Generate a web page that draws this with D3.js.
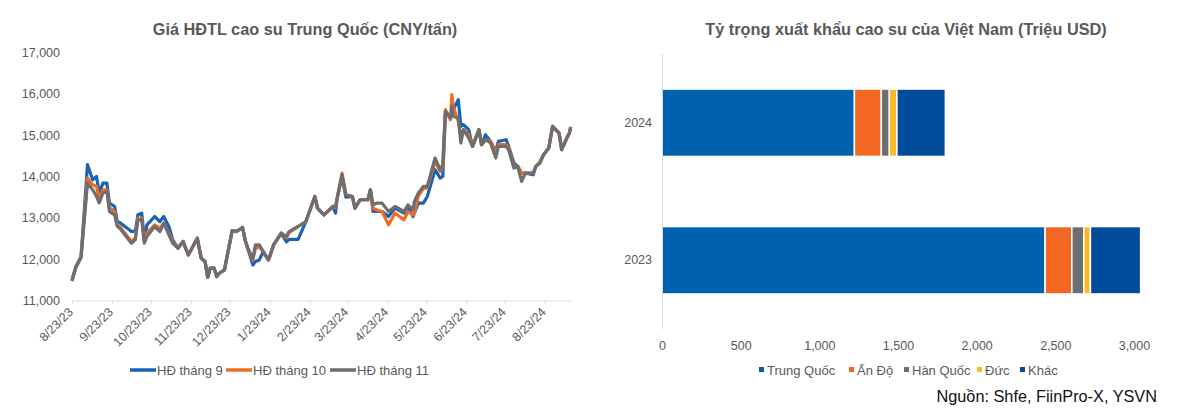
<!DOCTYPE html>
<html><head><meta charset="utf-8">
<script src="https://cdn.jsdelivr.net/npm/d3@7"></script>
<style>
html,body{margin:0;padding:0;background:#fff;}
svg{display:block;font-family:"Liberation Sans",Arial,sans-serif;}
</style></head>
<body>
<svg id="c" width="1200" height="409"></svg>
<script>
// ---------- Left chart data ----------
const dates = [
"2023-08-23","2023-08-26","2023-08-30","2023-09-04","2023-09-08","2023-09-11","2023-09-13","2023-09-16","2023-09-19","2023-09-21",
"2023-09-25","2023-09-27","2023-09-29","2023-10-08","2023-10-11","2023-10-13","2023-10-16","2023-10-18","2023-10-20","2023-10-26",
"2023-10-30","2023-11-02","2023-11-06","2023-11-09","2023-11-13","2023-11-17","2023-11-21","2023-11-28","2023-12-01","2023-12-04",
"2023-12-06","2023-12-08","2023-12-11","2023-12-13","2023-12-15","2023-12-19","2023-12-21","2023-12-25","2023-12-28","2024-01-02",
"2024-01-04","2024-01-06","2024-01-10","2024-01-12","2024-01-15","2024-01-18","2024-01-22","2024-01-23","2024-01-26","2024-02-01",
"2024-02-05","2024-02-07","2024-02-14","2024-02-20","2024-02-27","2024-02-29","2024-03-05","2024-03-12","2024-03-14","2024-03-15",
"2024-03-19","2024-03-22","2024-03-27","2024-03-29","2024-04-02","2024-04-08","2024-04-10","2024-04-12","2024-04-15","2024-04-19",
"2024-04-24","2024-04-29","2024-05-06","2024-05-09","2024-05-13","2024-05-14","2024-05-17","2024-05-21","2024-05-24","2024-05-30",
"2024-06-03","2024-06-05","2024-06-07","2024-06-11","2024-06-12","2024-06-13","2024-06-17","2024-06-19","2024-06-21","2024-06-25",
"2024-06-28","2024-07-03","2024-07-05","2024-07-08","2024-07-12","2024-07-16","2024-07-18","2024-07-24","2024-07-26","2024-07-30",
"2024-08-02","2024-08-05","2024-08-08","2024-08-14","2024-08-16","2024-08-19","2024-08-22","2024-08-26","2024-08-29","2024-09-03",
"2024-09-05","2024-09-09","2024-09-11","2024-09-12"];

const hd9 = [
11500,11820,12060,14285,13920,14000,13600,13840,13840,13360,
13275,12910,12886,12670,12670,13073,13113,12466,12830,13032,
12910,13032,12789,12466,12265,12426,12103,12507,12023,11942,
11562,11781,11781,11578,11659,11740,12062,12692,12668,12765,
12466,12265,11861,11942,11982,12184,11982,12062,12345,12628,
12420,12480,12480,12910,13516,13235,13073,13275,13113,13437,
13990,13500,13516,13235,13437,13437,13679,13153,13153,13153,
13032,13235,13113,13275,13032,13113,13356,13356,13516,14164,
13962,14000,15496,15496,15536,15617,15860,15214,15254,15132,
14729,15132,14769,15011,14850,14608,14850,14890,14729,14326,
14245,14083,14083,14042,14245,14326,14528,14689,15214,15052,
14648,14931,15052,15198];

const hd10 = [
11480,11810,12050,13960,13800,13760,13450,13680,13680,13240,
13150,12830,12790,12430,12510,12990,12990,12425,12630,12830,
12750,12870,12628,12425,12265,12426,12103,12507,12023,11942,
11562,11781,11781,11578,11659,11740,12062,12692,12668,12765,
12466,12265,11980,12260,12300,12184,11982,12062,12345,12628,
12520,12640,12790,12910,13516,13235,13073,13275,13250,13437,
14083,13557,13516,13235,13437,13437,13679,13230,13190,13153,
12830,13113,12950,13153,13070,13113,13516,13720,13720,14366,
14120,14245,15617,15375,15982,15698,15335,14971,15132,15011,
14729,15132,14769,14890,14850,14568,14769,14769,14689,14245,
14245,14083,14083,14083,14245,14326,14528,14689,15214,15052,
14648,14931,15052,15198];

const hd11 = [
11470,11800,12040,13840,13680,13520,13360,13600,13640,13150,
13070,12790,12750,12385,12466,12950,12950,12385,12547,12789,
12668,12870,12587,12385,12265,12426,12103,12507,12023,11942,
11562,11781,11781,11578,11659,11740,12062,12692,12668,12765,
12466,12265,12023,12345,12345,12184,11982,12062,12345,12628,
12547,12668,12790,12910,13516,13235,13073,13275,13275,13437,
14042,13557,13516,13235,13437,13437,13679,13315,13356,13356,
13153,13275,13153,13315,13195,13396,13598,13760,13760,14447,
14164,14285,15577,15415,15698,15456,15415,14810,15132,14931,
14729,15132,14769,14890,14810,14447,14729,14729,14648,14205,
14245,13882,14083,14083,14245,14326,14528,14689,15214,15052,
14648,14931,15052,15198];

const lineNames = ["HĐ tháng 9","HĐ tháng 10","HĐ tháng 11"];
const yTicksLeft = [11000,12000,13000,14000,15000,16000,17000];
const xTickDates = ["2023-08-23","2023-09-23","2023-10-23","2023-11-23","2023-12-23","2024-01-23","2024-02-23","2024-03-23","2024-04-23","2024-05-23","2024-06-23","2024-07-23","2024-08-23"];

// ---------- Right chart data ----------
const years = ["2024","2023"];
const markets = ["Trung Quốc","Ấn Độ","Hàn Quốc","Đức","Khác"];
const trungQuoc = [1223, 2435];
const anDo = [171, 170];
const hanQuoc = [51, 76];
const duc = [48, 42];
const khac = [308, 319];
const xTicksRight = [0,500,1000,1500,2000,2500,3000];

// ---------- Drawing ----------
const svg = d3.select("#c");
const txt = "#595959";
const parse = d3.timeParse("%Y-%m-%d");
const fmtDate = d3.timeFormat("%-m/%-d/%y");
const fmtNum = d3.format(",");

// Left chart
const L = {x0:72, x1:572, y0:300.5, y1:52.5};
const x = d3.scaleTime().domain([parse("2023-08-23"), parse("2024-09-13")]).range([L.x0, L.x1]);
const y = d3.scaleLinear().domain([11000,17000]).range([L.y0, L.y1]);

svg.append("text").attr("x",305).attr("y",35).attr("text-anchor","middle")
  .attr("font-size",16.3).attr("font-weight","bold").attr("fill",txt)
  .text("Giá HĐTL cao su Trung Quốc (CNY/tấn)");

const yAx = svg.append("g").attr("transform",`translate(${L.x0},0)`)
  .call(d3.axisLeft(y).tickValues(yTicksLeft).tickSize(0).tickPadding(12).tickFormat(fmtNum));
yAx.select(".domain").remove();
yAx.selectAll("text").attr("fill",txt).attr("font-size",12.5).attr("font-family","Liberation Sans, Arial, sans-serif");

const xAx = svg.append("g").attr("transform",`translate(0,${L.y0})`)
  .call(d3.axisBottom(x).tickValues(xTickDates.map(parse)).tickSize(4).tickSizeOuter(0).tickFormat(fmtDate));
xAx.select(".domain").attr("stroke","#d9d9d9").attr("d",`M${L.x0},0.5H${L.x1}`);
xAx.selectAll(".tick line").attr("stroke","#d9d9d9");
xAx.selectAll("text").attr("fill",txt).attr("font-size",12.5).attr("font-family","Liberation Sans, Arial, sans-serif")
  .attr("text-anchor","end").attr("dy",0).attr("transform","translate(0,8) rotate(-45)").attr("x",-2).attr("y",4);

const lineColors = ["#1a63b4","#ef6c25","#6e6e6e"];
const seriesVals = [hd9, hd10, hd11];
const line = d3.line().x(d=>x(d.date)).y(d=>y(d.v));
seriesVals.forEach((vals,i)=>{
  const data = dates.map((d,j)=>({date:parse(d), v:vals[j]}));
  svg.append("path").datum(data).attr("d",line).attr("fill","none")
    .attr("stroke",lineColors[i]).attr("stroke-width",3.2).attr("stroke-linejoin","round");
});

// left legend
const legL = [[130,157],[226,253],[330,357]];
lineNames.forEach((n,i)=>{
  svg.append("line").attr("x1",legL[i][0]).attr("x2",legL[i][0]+26).attr("y1",370).attr("y2",370)
    .attr("stroke",lineColors[i]).attr("stroke-width",3.5);
  svg.append("text").attr("x",legL[i][1]).attr("y",374.5).attr("font-size",13).attr("fill",txt).text(n);
});

// Right chart
const R = {x0:662, x1:1134, y0:54, y1:329};
const xr = d3.scaleLinear().domain([0,3000]).range([R.x0,R.x1]);
const yr = d3.scaleBand().domain(years).range([R.y0,R.y1]).paddingInner(0.51).paddingOuter(0.255);

svg.append("text").attr("x",906).attr("y",35).attr("text-anchor","middle")
  .attr("font-size",16.3).attr("font-weight","bold").attr("fill",txt)
  .text("Tỷ trọng xuất khẩu cao su của Việt Nam (Triệu USD)");

const barColors = ["#0061ae","#f26722","#6d6e70","#fbb829","#004c9b"];
const seriesR = [trungQuoc, anDo, hanQuoc, duc, khac];
const table = years.map((yr_,i)=>{ const o={year:yr_}; markets.forEach((m,k)=>o[m]=seriesR[k][i]); return o; });
const stack = d3.stack().keys(markets)(table);
stack.forEach((s,k)=>{
  svg.append("g").selectAll("rect").data(s).join("rect")
    .attr("x",d=>xr(d[0])).attr("width",d=>xr(d[1])-xr(d[0]))
    .attr("y",d=>yr(d.data.year)).attr("height",yr.bandwidth())
    .attr("fill",barColors[k]).attr("stroke","#fff").attr("stroke-width",1.5);
});

svg.append("line").attr("x1",R.x0+0.5).attr("x2",R.x0+0.5).attr("y1",R.y0).attr("y2",R.y1).attr("stroke","#d9d9d9");

const yrAx = svg.append("g").attr("transform",`translate(${R.x0},0)`)
  .call(d3.axisLeft(yr).tickSize(0).tickPadding(10));
yrAx.select(".domain").remove();
yrAx.selectAll("text").attr("fill",txt).attr("font-size",12.5).attr("font-family","Liberation Sans, Arial, sans-serif");

const xrAx = svg.append("g").attr("transform",`translate(0,${R.y1})`)
  .call(d3.axisBottom(xr).tickValues(xTicksRight).tickSize(0).tickPadding(12).tickFormat(fmtNum));
xrAx.select(".domain").remove();
xrAx.selectAll("text").attr("fill",txt).attr("font-size",12.5).attr("font-family","Liberation Sans, Arial, sans-serif");

// right legend
const legR = [759, 849, 904, 977, 1020];
markets.forEach((m,i)=>{
  svg.append("rect").attr("x",legR[i]).attr("y",367).attr("width",5).attr("height",5).attr("fill",barColors[i]);
  svg.append("text").attr("x",legR[i]+8).attr("y",374.5).attr("font-size",13).attr("fill",txt).text(m);
});

svg.append("text").attr("x",1157).attr("y",402).attr("text-anchor","end").attr("font-size",16.3).attr("fill","#111")
  .text("Nguồn: Shfe, FiinPro-X, YSVN");
</script>
</body></html>
